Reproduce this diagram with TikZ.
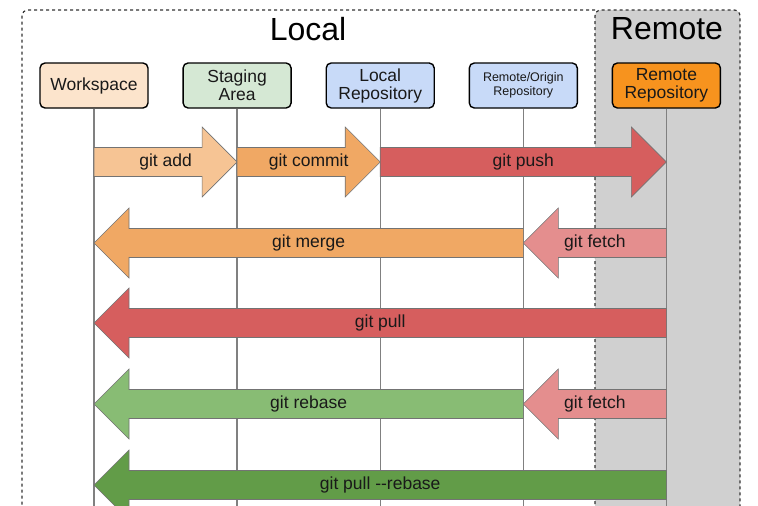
\documentclass[tikz,border=0pt]{standalone}
\usepackage{fontspec}
\setmainfont{Liberation Sans}
\usepackage{tikz}
\usetikzlibrary{positioning, calc}

\definecolor{wscol}{RGB}{252,228,204}
\definecolor{sacol}{RGB}{213,232,212}
\definecolor{lrcol}{RGB}{200,218,248}
\definecolor{rrcol}{RGB}{247,147,30}
\definecolor{remotegray}{RGB}{208,208,208}
\definecolor{addcol}{RGB}{246,196,148}
\definecolor{commitcol}{RGB}{240,168,100}
\definecolor{pushcol}{RGB}{214,94,94}
\definecolor{fetchcol}{RGB}{228,142,142}
\definecolor{rebasecol}{RGB}{136,188,116}
\definecolor{pullrebasecol}{RGB}{98,156,72}

\begin{document}
\begin{tikzpicture}[x=1pt, y=-1pt,
    area/.style={draw=black!80, dashed, line width=1.2pt, rounded corners=6pt},
    place/.style={draw, line width=1.4pt, rounded corners=5pt, minimum width=108pt, minimum height=45pt, align=center, text=black!90, font=\fontsize{17.5}{18}\selectfont},
    life/.style={draw=black!50, line width=1.3pt},
    cmd/.style={font=\fontsize{17.5}{20}\selectfont, text=black!90},
    blockarrow/.style={draw=black!55, line width=0.6pt, to path={
        let \p1=(\tikztostart), \p2=(\tikztotarget), \n1={ifthenelse(\x2>\x1,1,-1)} in
        (\x1,\y1+14.5pt) -- (\x2-35pt*\n1,\y1+14.5pt) -- (\x2-35pt*\n1,\y1+35pt) -- (\x2,\y2)
        -- (\x2-35pt*\n1,\y1-35pt) -- (\x2-35pt*\n1,\y1-14.5pt) -- (\x1,\y1-14.5pt) -- cycle}}]
    \clip (0,0) rectangle (758,506);
    \useasboundingbox (0,0) rectangle (758,506);

    % the two areas
    \fill[remotegray, rounded corners=6pt] (595,10) rectangle (740,540);
    \draw[area] (595,540) -- (595,10) -- (740,10) -- (740,540);
    \draw[area] (595,10) -- (22,10) -- (22,540);
    \node[font=\fontsize{32}{36}\selectfont] (localtitle) at (308,29) {Local};
    \node[font=\fontsize{32}{36}\selectfont] (remotetitle) at (667,29) {Remote};

    % places
    \node[place, fill=wscol] (ws) at (94,85.5) {Workspace};
    \node[place, fill=sacol] (sa) [right=33.7pt of ws] {Staging\\Area};
    \node[place, fill=lrcol] (lr) [right=33.7pt of sa] {Local\\Repository};
    \node[place, fill=lrcol, font=\fontsize{12.5}{14}\selectfont] (ro) [right=33.7pt of lr] {Remote/Origin\\Repository};
    \node[place, fill=rrcol] (rr) [right=33.7pt of ro] {Remote\\Repository};

    % rows and lifelines
    \coordinate (r1) at (0,162);
    \coordinate (r2) at (0,243);
    \coordinate (r3) at (0,323);
    \coordinate (r4) at (0,404);
    \coordinate (r5) at (0,485);
    \coordinate (bottom) at (0,540);
    \foreach \p in {ws, sa, lr, ro, rr}
        \draw[life] (\p.south) -- (\p |- bottom);

    % commands
    \draw[blockarrow, fill=addcol] (ws |- r1) to (sa |- r1);
    \draw[blockarrow, fill=commitcol] (sa |- r1) to (lr |- r1);
    \draw[blockarrow, fill=pushcol] (lr |- r1) to (rr |- r1);
    \draw[blockarrow, fill=fetchcol] (rr |- r2) to (ro |- r2);
    \draw[blockarrow, fill=commitcol] (ro |- r2) to (ws |- r2);
    \draw[blockarrow, fill=pushcol] (rr |- r3) to (ws |- r3);
    \draw[blockarrow, fill=fetchcol] (rr |- r4) to (ro |- r4);
    \draw[blockarrow, fill=rebasecol] (ro |- r4) to (ws |- r4);
    \draw[blockarrow, fill=pullrebasecol] (rr |- r5) to (ws |- r5);

    \node[cmd] (add) at ($(ws |- r1)!.5!(sa |- r1)$) {git add};
    \node[cmd] (commit) at ($(sa |- r1)!.5!(lr |- r1)$) {git commit};
    \node[cmd] (push) at ($(lr |- r1)!.5!(rr |- r1)$) {git push};
    \node[cmd] (fetch) at ($(ro |- r2)!.5!(rr |- r2)$) {git fetch};
    \node[cmd] (merge) at ($(ws |- r2)!.5!(ro |- r2)$) {git merge};
    \node[cmd] (pull) at ($(ws |- r3)!.5!(rr |- r3)$) {git pull};
    \node[cmd] (fetchb) at ($(ro |- r4)!.5!(rr |- r4)$) {git fetch};
    \node[cmd] (rebase) at ($(ws |- r4)!.5!(ro |- r4)$) {git rebase};
    \node[cmd] (pullrebase) at ($(ws |- r5)!.5!(rr |- r5)$) {git pull -{}-rebase};
\end{tikzpicture}
\end{document}
